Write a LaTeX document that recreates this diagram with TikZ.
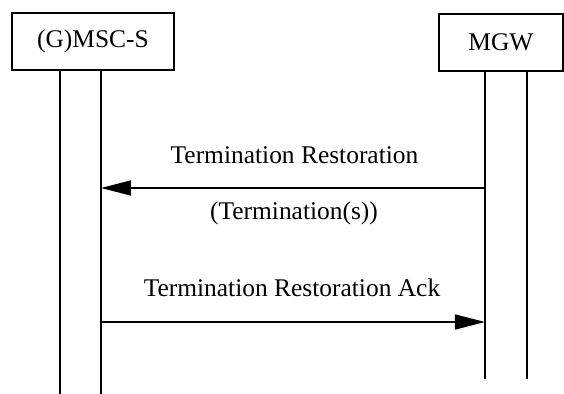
\documentclass[tikz,border=0pt]{standalone}
\usepackage{fontspec}
\setmainfont{Liberation Serif}
\usepackage{tikz}
\usetikzlibrary{arrows.meta,positioning,calc}

\begin{document}
\begin{tikzpicture}[
        font=\fontsize{18.1}{21}\selectfont,
        % --- node styles ---
        entity/.style={
            draw, line width=1.2pt,
            minimum height=14.25mm, inner sep=0pt,
            align=center
        },
        msglabel/.style={
            anchor=base, inner sep=0pt
        },
        % --- edge styles ---
        lifeline/.style={line width=1.1pt},
        msg/.style={-{Triangle[length=7.5mm,width=3.75mm]}, line width=1.1pt}
    ]

    \useasboundingbox (0,0) rectangle (14.1,-9.85);

    % --- Entities ---
    \node[entity, minimum width=40.5mm] (msc) at (2.325,-1.0375) {(G)MSC-S};
    \node[entity, minimum width=31mm]   (mgw) at (12.525,-1.0625) {MGW};

    % --- Lifeline end points ---
    \coordinate (mscA top) at (1.5,-1.75);
    \coordinate (mscA bot) at (1.5,-9.85);
    \coordinate (mscB top) at (2.525,-1.75);
    \coordinate (mscB bot) at (2.525,-9.85);
    \coordinate (mgwA top) at (12.125,-1.775);
    \coordinate (mgwA bot) at (12.125,-9.475);
    \coordinate (mgwB top) at (13.175,-1.775);
    \coordinate (mgwB bot) at (13.175,-9.475);

    % --- Message end points ---
    \coordinate (mgw restore) at (12.125,-4.7);
    \coordinate (msc restore) at (2.525,-4.7);
    \coordinate (msc ack)     at (2.525,-8.05);
    \coordinate (mgw ack)     at (12.125,-8.05);

    % ===== Lifelines =====
    \draw[lifeline] (mscA top) -- (mscA bot);
    \draw[lifeline] (mscB top) -- (mscB bot);
    \draw[lifeline] (mgwA top) -- (mgwA bot);
    \draw[lifeline] (mgwB top) -- (mgwB bot);

    % ===== Messages =====
    \node[msglabel] (restore)    at (7.3625,-4.1)  {Termination Restoration};
    \node[msglabel] (restorearg) at (7.35,-5.49)   {(Termination(s))};
    \draw[msg] (mgw restore) -- (msc restore);

    \node[msglabel] (restoreack) at (7.3,-7.425)   {Termination Restoration Ack};
    \draw[msg] (msc ack) -- (mgw ack);

\end{tikzpicture}
\end{document}
